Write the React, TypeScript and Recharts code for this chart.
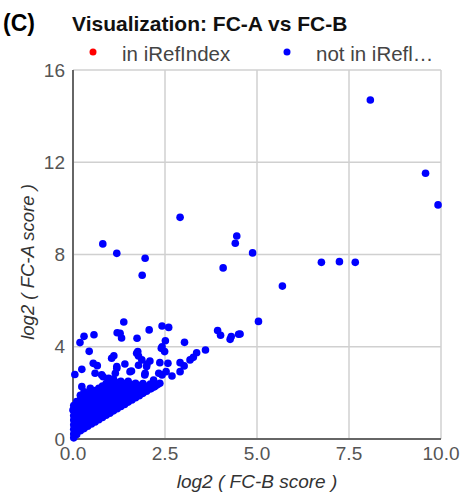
import React from "react";
import {
  ScatterChart,
  Scatter,
  XAxis,
  YAxis,
  CartesianGrid,
} from "recharts";

const chartTitle = "Visualization: FC-A vs FC-B";
const panelLabel = "(C)";
const seriesNames = ["in iRefIndex", "not in iRefl…"];
const xAxisTitle = "log2 ( FC-B score )";
const yAxisTitle = "log2 ( FC-A score )";
const xTicks = [0, 2.5, 5, 7.5, 10];
const yTicks = [0, 4, 8, 12, 16];

// series "in iRefIndex" (no visible points)
const inRefFcB: number[] = [];
const inRefFcA: number[] = [];

// series "not in iRefIndex": scattered points
const scatterFcB = [
  8.08, 9.58, 9.92, 4.88, 4.45, 4.41, 4.08, 2.91, 0.81, 1.19, 1.96, 1.88, 6.75, 7.24, 7.67,
  5.69, 5.04, 4.54, 3.93, 4.01, 4.27, 4.30, 4.50, 2.42, 2.60, 2.07, 2.51, 3.03, 3.60, 3.36,
  3.27, 3.18, 2.40, 2.49, 2.91, 3.02, 2.91, 2.69, 2.58, 2.36, 2.53, 2.33, 2.09, 2.00, 1.95,
  2.36, 2.24, 2.13, 1.87, 1.38, 0.57, 0.30, 0.19, 1.20, 1.32, 1.74, 0.44, 1.11, 1.05, 0.55,
  0.66, 1.41, 1.73, 0.24, 0.05, 1.19, 0.82, 1.59, 2.01, 1.76, 1.78, 1.19, 1.55, 0.78, 1.96,
  0.00, 1.28, 0.60, 1.78, 1.87, 2.19, 2.42, 0.97, 1.15, 0.47, 0.24, 2.42,
];
const scatterFcA = [
  14.70, 11.52, 10.15, 8.07, 8.80, 8.49, 7.42, 9.61, 8.46, 8.05, 7.84, 7.10, 7.66, 7.69, 7.66,
  6.63, 5.10, 4.55, 4.70, 4.50, 4.32, 4.44, 4.54, 4.90, 4.84, 4.73, 4.26, 4.19, 3.86, 3.74,
  3.54, 3.43, 3.93, 3.79, 3.31, 3.17, 2.92, 2.73, 3.28, 3.31, 2.92, 2.85, 3.38, 3.14, 2.78,
  2.42, 2.30, 2.20, 2.05, 5.07, 4.52, 4.45, 4.18, 4.61, 4.38, 4.37, 3.80, 3.61, 3.50, 3.28,
  3.18, 3.25, 3.72, 3.02, 2.80, 3.07, 2.70, 2.95, 3.25, 3.79, 3.60, 3.14, 2.92, 2.78, 2.85,
  1.26, 4.58, 2.85, 3.20, 3.43, 2.56, 2.78, 2.63, 2.85, 2.20, 2.27, 4.00,
];

// series "not in iRefIndex": dense cluster near origin
const clusterFcB = [
  0.02, 0.02, 0.02, 0.02, 0.02, 0.02, 0.02, 0.02,
  0.1, 0.1, 0.1, 0.1, 0.1, 0.1, 0.1, 0.1,
  0.2, 0.2, 0.2, 0.2, 0.2, 0.2, 0.2, 0.2,
  0.3, 0.3, 0.3, 0.3, 0.3, 0.3, 0.3, 0.3,
  0.4, 0.4, 0.4, 0.4, 0.4, 0.4, 0.4,
  0.5, 0.5, 0.5, 0.5, 0.5, 0.5, 0.5,
  0.6, 0.6, 0.6, 0.6, 0.6, 0.6, 0.6,
  0.7, 0.7, 0.7, 0.7, 0.7, 0.7, 0.7,
  0.8, 0.8, 0.8, 0.8, 0.8, 0.8, 0.8,
  0.9, 0.9, 0.9, 0.9, 0.9, 0.9, 0.9,
  1.0, 1.0, 1.0, 1.0, 1.0, 1.0, 1.0,
  1.1, 1.1, 1.1, 1.1, 1.1, 1.1, 1.1,
  1.2, 1.2, 1.2, 1.2, 1.2, 1.2,
  1.3, 1.3, 1.3, 1.3, 1.3, 1.3,
  1.4, 1.4, 1.4, 1.4, 1.4,
  1.5, 1.5, 1.5, 1.5, 1.5,
  1.6, 1.6, 1.6, 1.6,
  1.7, 1.7, 1.7, 1.7,
  1.8, 1.8, 1.8,
  1.9, 1.9, 1.9,
  2.0, 2.0,
  2.1, 2.1,
  2.2,
  2.3,
];
const clusterFcA = [
  0.05, 0.22, 0.42, 0.62, 0.82, 1.02, 1.25, 1.45,
  0.2, 0.4, 0.6, 0.8, 1.0, 1.2, 1.4, 1.62,
  0.36, 0.56, 0.78, 1.0, 1.22, 1.45, 1.7, 1.9,
  0.45, 0.66, 0.88, 1.1, 1.32, 1.55, 1.8, 2.05,
  0.55, 0.78, 1.0, 1.22, 1.45, 1.7, 1.95,
  0.65, 0.88, 1.1, 1.32, 1.55, 1.8, 2.05,
  0.74, 0.96, 1.18, 1.4, 1.62, 1.85, 2.1,
  0.84, 1.06, 1.28, 1.5, 1.72, 1.95, 2.2,
  0.93, 1.15, 1.38, 1.6, 1.82, 2.05, 2.3,
  1.03, 1.25, 1.48, 1.7, 1.92, 2.15, 2.4,
  1.12, 1.35, 1.58, 1.8, 2.02, 2.25, 2.5,
  1.22, 1.45, 1.68, 1.9, 2.12, 2.35, 2.6,
  1.31, 1.54, 1.76, 1.98, 2.2, 2.45,
  1.41, 1.63, 1.86, 2.08, 2.3, 2.5,
  1.5, 1.72, 1.95, 2.18, 2.4,
  1.6, 1.82, 2.05, 2.28, 2.5,
  1.69, 1.92, 2.14, 2.36,
  1.79, 2.0, 2.22, 2.42,
  1.88, 2.1, 2.32,
  1.98, 2.2, 2.4,
  2.07, 2.28,
  2.17, 2.38,
  2.26,
  2.36,
];

const seriesColors = ["#ff0000", "#0000ff"];

const inRefData = inRefFcB.map((b, i) => ({ b, a: inRefFcA[i] }));
const notInData = [
  ...clusterFcB.map((b, i) => ({ b, a: clusterFcA[i] })),
  ...scatterFcB.map((b, i) => ({ b, a: scatterFcA[i] })),
];

const FONT = "'Liberation Sans', Arial, sans-serif";

const Dot = (props: any) => {
  const { cx, cy, fill } = props;
  if (cx == null || cy == null) return null;
  return <circle cx={cx} cy={cy} r={3.8} fill={fill} />;
};

export default function App() {
  return (
    <div style={{ position: "absolute", left: 0, top: 0, width: 464, height: 495, background: "#fff" }}>
      <ScatterChart
        width={464}
        height={495}
        margin={{ top: 70, right: 23, bottom: 0, left: 0 }}
      >
        <CartesianGrid stroke="#d0d0d0" strokeWidth={1.5} />
        <XAxis
          type="number"
          dataKey="b"
          domain={[0, 10]}
          ticks={xTicks}
          tickFormatter={(v: number) => v.toFixed(1)}
          height={56}
          tickLine={false}
          axisLine={{ stroke: "#666", strokeWidth: 2 }}
          tick={{ fill: "#555", fontSize: 19, fontFamily: FONT }}
          interval={0}
        />
        <YAxis
          type="number"
          dataKey="a"
          domain={[0, 16]}
          ticks={yTicks}
          width={73}
          tickLine={false}
          axisLine={{ stroke: "#666", strokeWidth: 2 }}
          tick={{ fill: "#555", fontSize: 19, fontFamily: FONT }}
          interval={0}
        />
        <Scatter
          name={seriesNames[0]}
          data={inRefData}
          fill={seriesColors[0]}
          shape={<Dot />}
          isAnimationActive={false}
        />
        <Scatter
          name={seriesNames[1]}
          data={notInData}
          fill={seriesColors[1]}
          shape={<Dot />}
          isAnimationActive={false}
        />
      </ScatterChart>
      <svg
        width={464}
        height={495}
        style={{ position: "absolute", left: 0, top: 0, pointerEvents: "none" }}
      >
        <text x={3} y={31} fontFamily={FONT} fontWeight="bold" fontSize={23} fill="#000">
          {panelLabel}
        </text>
        <text x={72} y={31} fontFamily={FONT} fontWeight="bold" fontSize={21} fill="#111">
          {chartTitle}
        </text>
        <circle cx={93} cy={52} r={3.5} fill={seriesColors[0]} />
        <text x={122} y={61} fontFamily={FONT} fontSize={20.5} fill="#444">
          {seriesNames[0]}
        </text>
        <circle cx={287} cy={52} r={3.5} fill={seriesColors[1]} />
        <text x={316} y={61} fontFamily={FONT} fontSize={20.5} fill="#444">
          {seriesNames[1]}
        </text>
        <text
          x={257}
          y={488}
          textAnchor="middle"
          fontFamily={FONT}
          fontStyle="italic"
          fontSize={19}
          fill="#333"
        >
          {xAxisTitle}
        </text>
        <text
          x={34}
          y={262}
          textAnchor="middle"
          transform="rotate(-90 34 262)"
          fontFamily={FONT}
          fontStyle="italic"
          fontSize={18.5}
          fill="#333"
        >
          {yAxisTitle}
        </text>
      </svg>
    </div>
  );
}
